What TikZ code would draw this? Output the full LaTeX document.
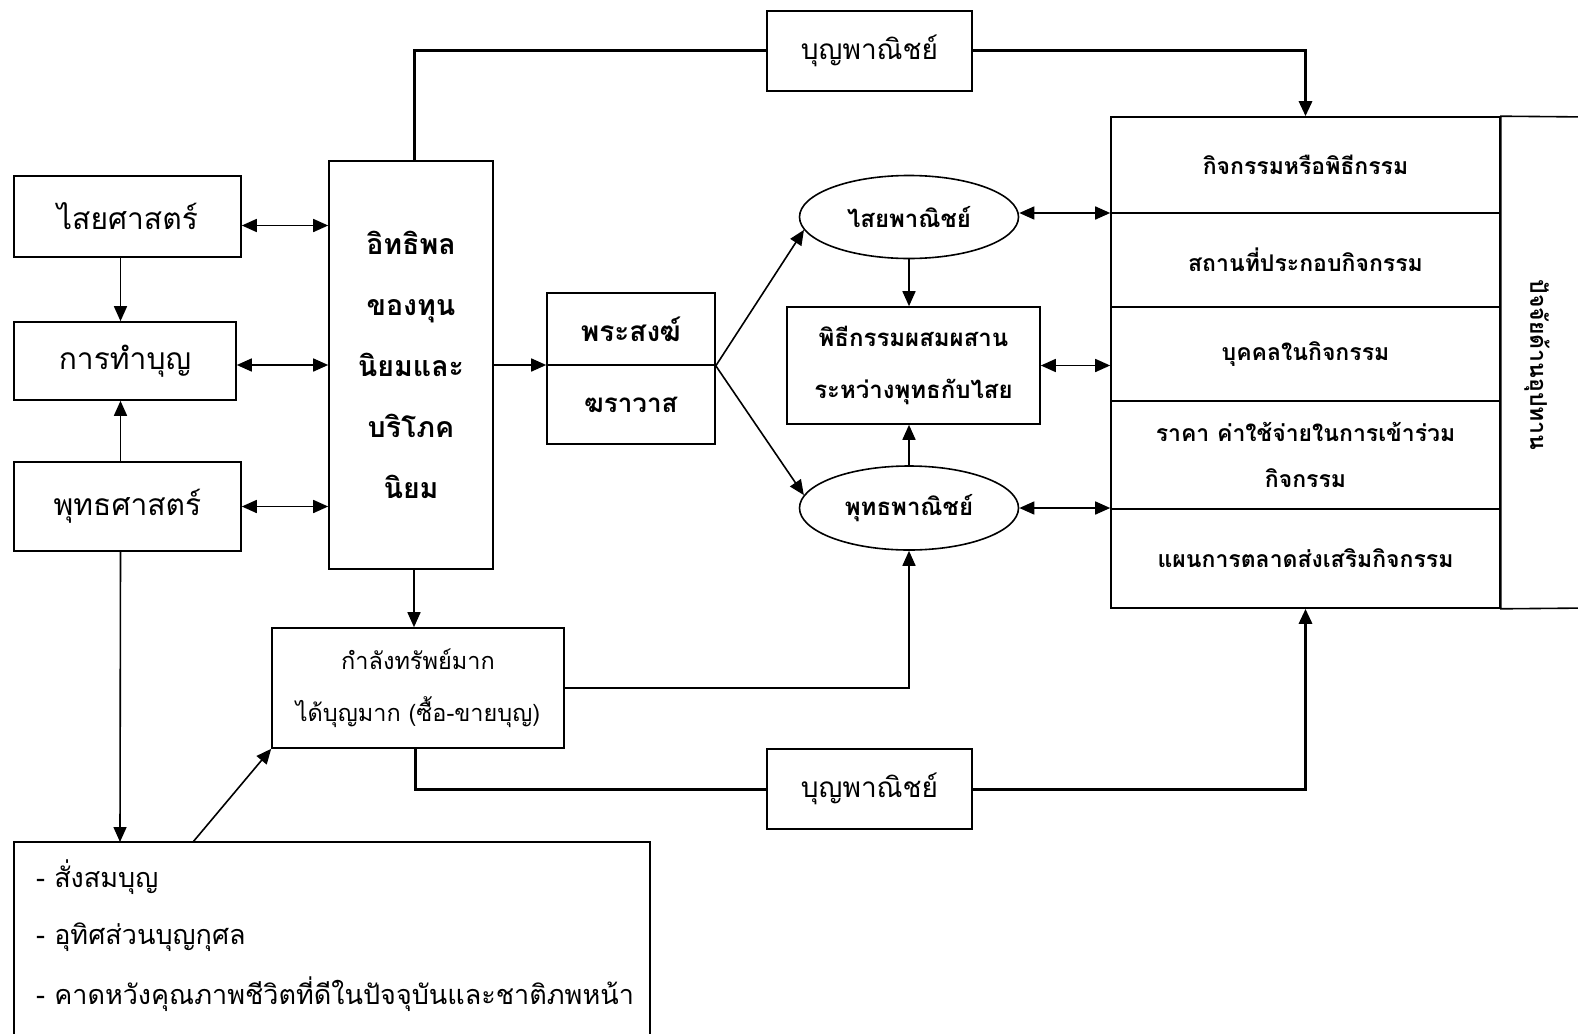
\documentclass[tikz,border=0pt]{standalone}
\usepackage{fontspec}
\setmainfont[Script=Thai]{Loma}
\usetikzlibrary{arrows.meta,shapes.geometric}
\tikzset{
  box/.style={draw, line width=1.6pt, inner sep=0pt, align=center},
  oval/.style={draw, ellipse, line width=1.6pt, inner sep=0pt, align=center},
  conn/.style={line width=1.6pt, -{Triangle[length=15pt,width=13pt]}},
  both/.style={line width=1.6pt, {Triangle[length=15pt,width=13pt]}-{Triangle[length=15pt,width=13pt]}},
  heavy/.style={line width=3pt},
  heavyarr/.style={line width=3pt, -{Triangle[length=15pt,width=13pt]}},
  big/.style={font=\fontsize{30}{36}\selectfont},
  mid/.style={font=\bfseries\fontsize{24}{52}\selectfont},
  small/.style={font=\bfseries\fontsize{23}{46}\selectfont},
}
\begin{document}
\begin{tikzpicture}[x=1pt,y=-1pt]
\useasboundingbox (0,0) rectangle (1578,1033);
\fill[white] (0,0) rectangle (1578,1033);

% left column
\node[box,big,minimum width=227,minimum height=81] (sai) at (127.5,216.5) {ไสยศาสตร์};
\node[box,big,minimum width=222,minimum height=78] (tham) at (125,361) {การทำบุญ};
\node[box,big,minimum width=227,minimum height=89] (phut) at (127.5,506.5) {พุทธศาสตร์};

% influence box
\node[box,font=\bfseries\fontsize{28.5}{61}\selectfont,minimum width=164,minimum height=408] (itthi) at (411,365) {อิทธิพล\\ของทุน\\นิยมและ\\บริโภค\\นิยม};

% top and bottom merit-commerce boxes
\node[box,font=\fontsize{28}{34}\selectfont,minimum width=205,minimum height=80] (bunTop) at (869.5,51) {บุญพาณิชย์};
\node[box,font=\fontsize{28}{34}\selectfont,minimum width=205,minimum height=80] (bunBot) at (869.5,789) {บุญพาณิชย์};

% monks / laity
\node[box,font=\bfseries\fontsize{28}{32}\selectfont,minimum width=168,minimum height=72] (sTop) at (631,329) {พระสงฆ์};
\node[box,font=\bfseries\fontsize{26}{32}\selectfont,minimum width=168,minimum height=79] (sBot) at (631,404.5) {ฆราวาส};

% commerce ellipses and ritual box
\node[oval,mid,minimum width=219,minimum height=83] (saiPan) at (909,217) {ไสยพาณิชย์};
\node[box,mid,minimum width=253,minimum height=117] (phithi) at (913.5,365.5) {พิธีกรรมผสมผสาน\\ระหว่างพุทธกับไสย};
\node[oval,mid,minimum width=219,minimum height=84] (phutPan) at (909,508) {พุทธพาณิชย์};

% wealth box
\node[box,font=\fontsize{23.5}{52}\selectfont,minimum width=292,minimum height=120] (kamlang) at (418,688) {กำลังทรัพย์มาก\\ได้บุญมาก (ซื้อ-ขายบุญ)};

% list box
\draw[line width=1.6pt] (14,1045) -- (14,842) -- (650,842) -- (650,1045);
\coordinate (lst) at (120,842);
\coordinate (lst2) at (193,842);
\node[anchor=west,font=\fontsize{27}{32}\selectfont,inner sep=0pt] (l1) at (36,877) {- สั่งสมบุญ};
\node[anchor=west,font=\fontsize{27}{32}\selectfont,inner sep=0pt] (l2) at (36,937) {- อุทิศส่วนบุญกุศล};
\node[anchor=west,font=\fontsize{27}{32}\selectfont,inner sep=0pt] (l3) at (36,994) {- คาดหวังคุณภาพชีวิตที่ดีในปัจจุบันและชาติภพหน้า};

% right table
\node[box,small,minimum width=389,minimum height=96] (r1) at (1305.5,165) {กิจกรรมหรือพิธีกรรม};
\node[box,small,minimum width=389,minimum height=94] (r2) at (1305.5,260) {สถานที่ประกอบกิจกรรม};
\node[box,small,minimum width=389,minimum height=94] (r3) at (1305.5,354) {บุคคลในกิจกรรม};
\node[box,small,minimum width=389,minimum height=108] (r4) at (1305.5,455) {ราคา ค่าใช้จ่ายในการเข้าร่วม\\กิจกรรม};
\node[box,small,minimum width=389,minimum height=99] (r5) at (1305.5,558.5) {แผนการตลาดส่งเสริมกิจกรรม};
\draw[line width=1.6pt] (1590,117) -- (r1.north east) -- (r5.south east) -- (1590,608);
\node[rotate=-90,font=\bfseries\fontsize{23}{28}\selectfont] (side) at (1537,365) {ปัจจัยด้านอุปทาน};

% connectors left
\draw[both] ([yshift=-9pt]sai.east) -- ([yshift=-9pt]sai.east -| itthi.west);
\draw[both] ([yshift=-4pt]tham.east) -- ([yshift=-4pt]tham.east -| itthi.west);
\draw[both] (phut.east) -- (phut.east -| itthi.west);
\draw[conn] ([xshift=-7pt]sai.south) -- ([xshift=-7pt]sai.south |- tham.north);
\draw[conn] ([xshift=-7pt]phut.north) -- ([xshift=-7pt]phut.north |- tham.south);
\draw[conn] ([xshift=-7pt]phut.south) -- (lst);
\draw[conn] (lst2) -- (kamlang.south west);

% influence connections
\draw[heavy] ([xshift=3pt]itthi.north) |- (bunTop.west);
\draw[heavyarr] (bunTop.east) -| (r1.north);
\draw[conn] ([xshift=3pt]itthi.south) -- ([xshift=3pt]itthi.south |- kamlang.north);
\draw[conn] (itthi.east) -- (itthi.east -| sTop.west);
\draw[conn] (sTop.south east) -- (saiPan.187);
\draw[conn] (sTop.south east) -- (phutPan.173);
\draw[conn] (saiPan.south) -- (saiPan.south |- phithi.north);
\draw[conn] (phutPan.north) -- (phutPan.north |- phithi.south);
\draw[both] ([yshift=4pt]saiPan.east) -- ([yshift=4pt]saiPan.east -| r1.west);
\draw[both] (phithi.east) -- (phithi.east -| r3.west);
\draw[both] (phutPan.east) -- (phutPan.east -| r5.west);
\draw[conn] (kamlang.east) -| (phutPan.south);
\draw[heavy] ([xshift=-3pt]kamlang.south) |- (bunBot.west);
\draw[heavyarr] (bunBot.east) -| (r5.south);
\end{tikzpicture}
\end{document}
